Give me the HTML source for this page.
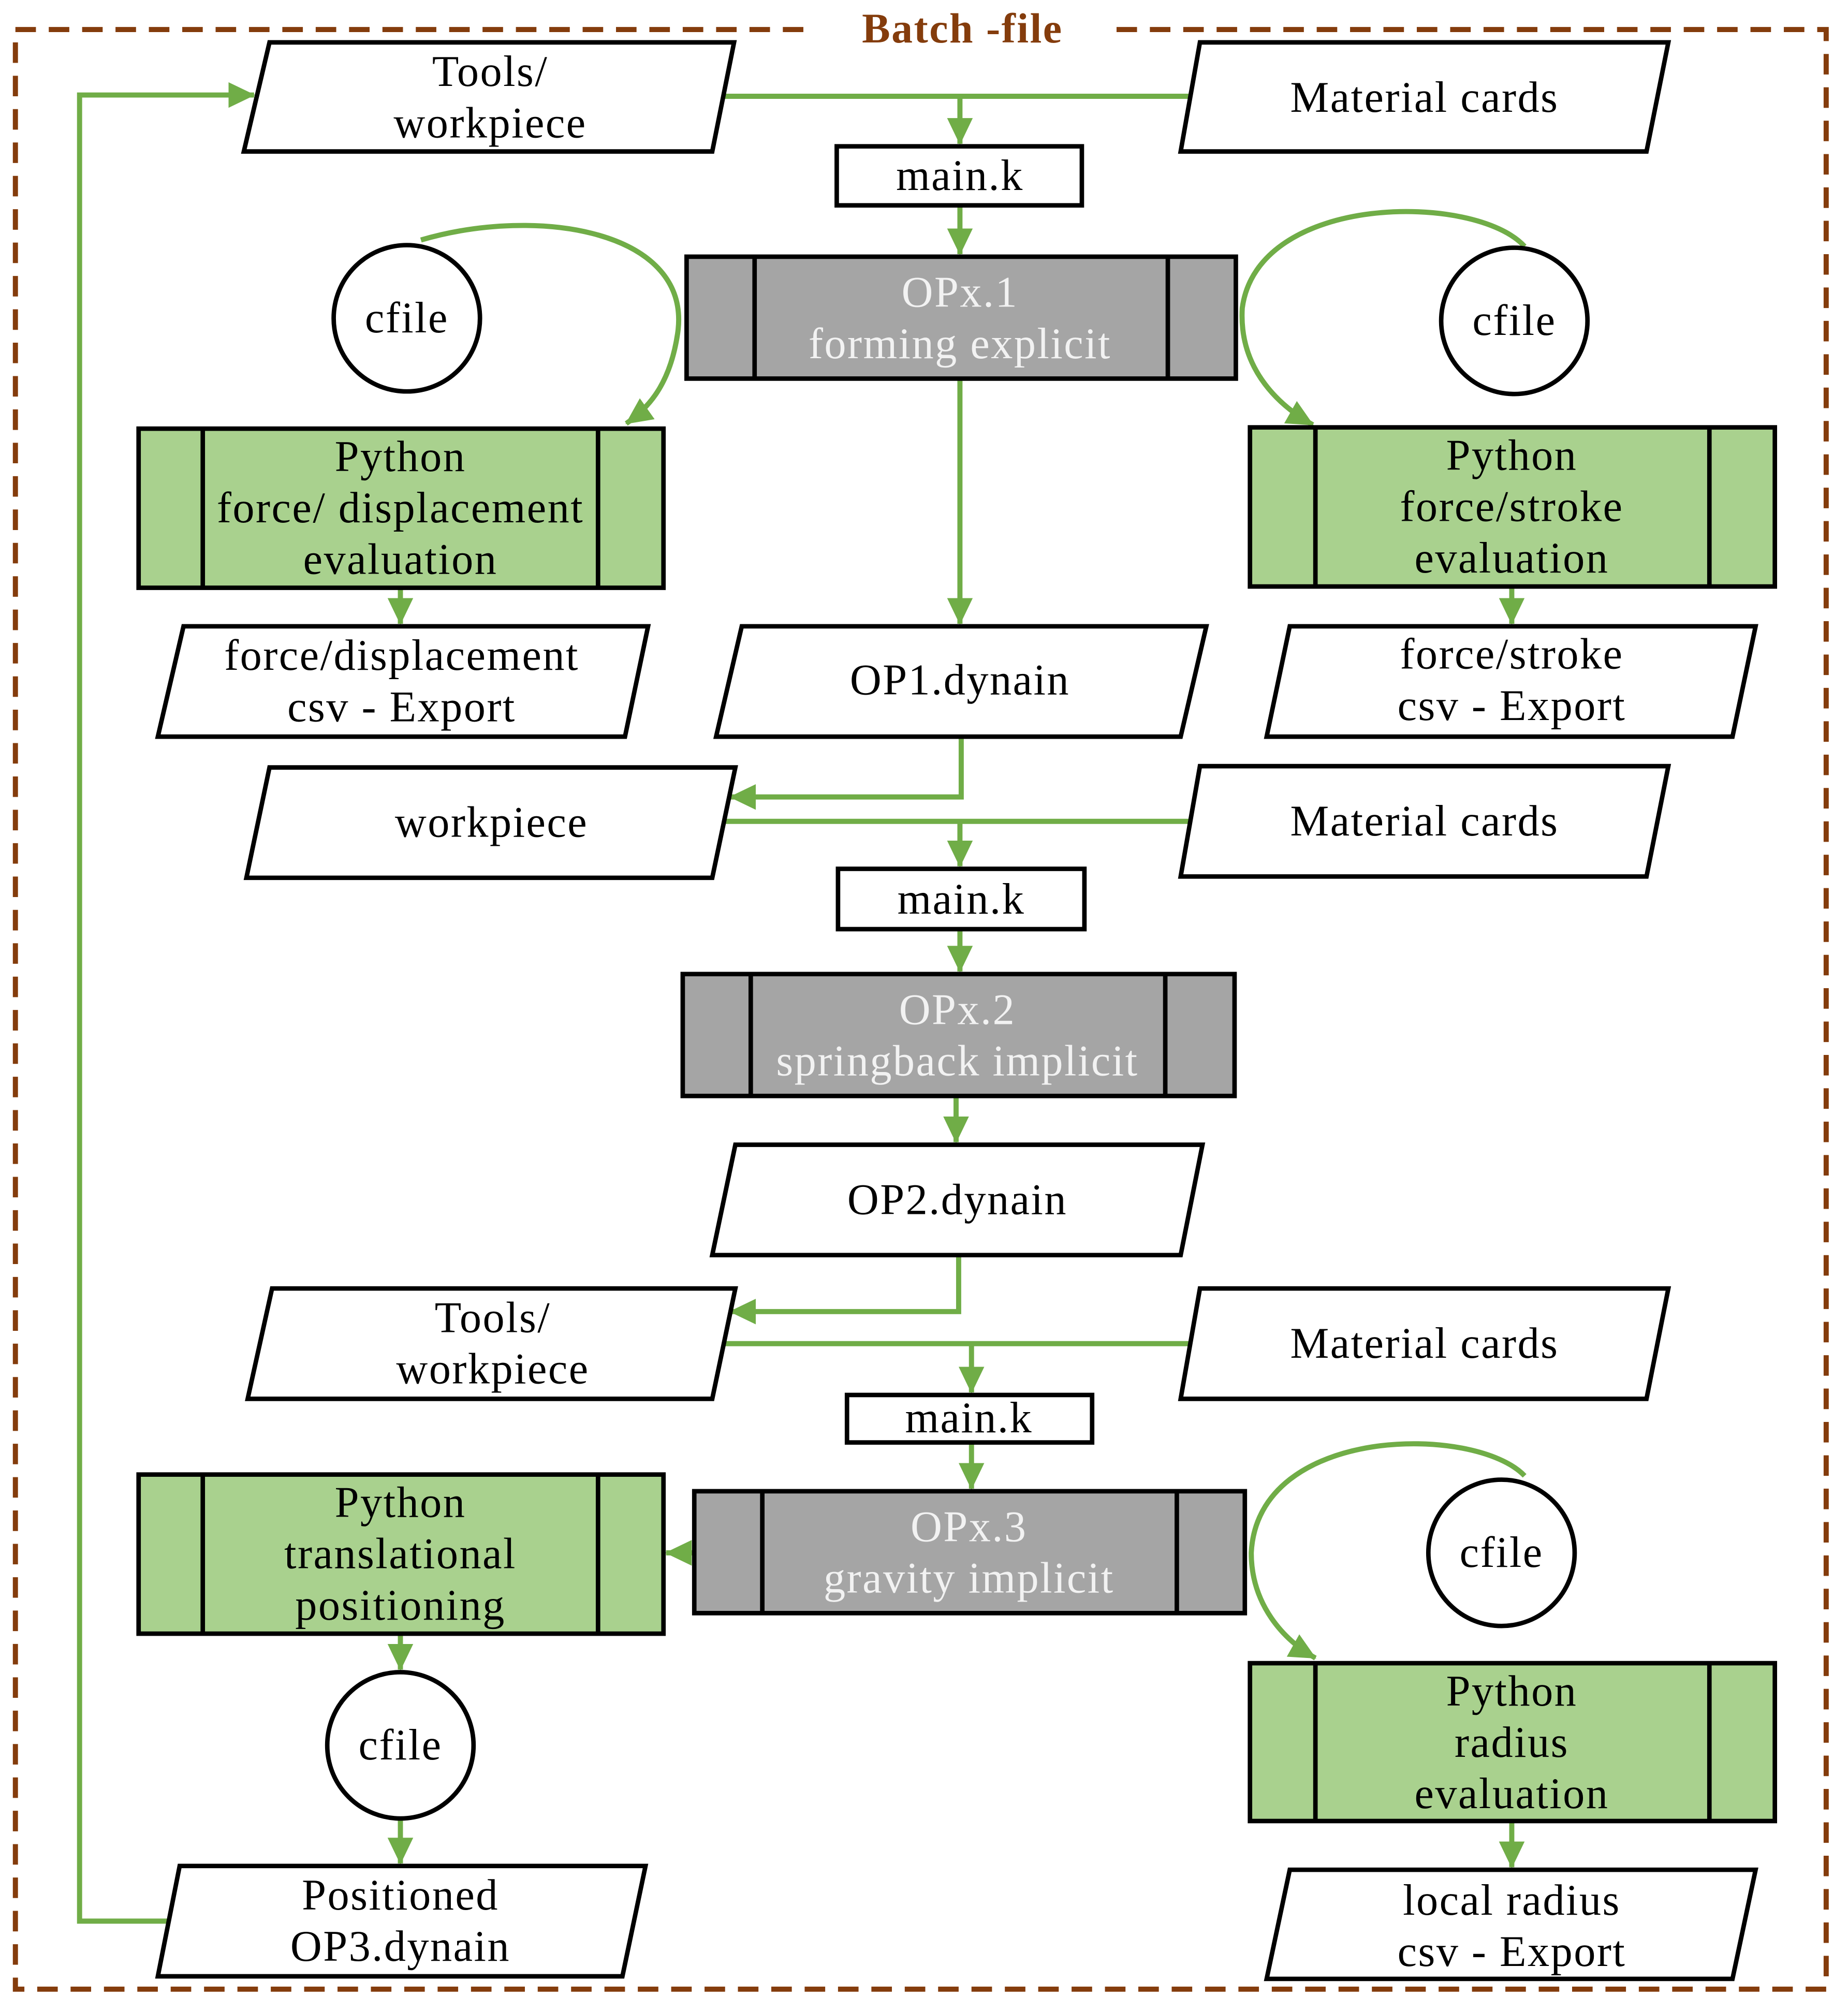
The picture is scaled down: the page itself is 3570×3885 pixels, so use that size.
<!DOCTYPE html>
<html><head><meta charset="utf-8"><style>
html,body{margin:0;padding:0;background:#fff;}
svg{display:block;}
text{font-family:"Liberation Serif",serif;font-size:34px;letter-spacing:1px;text-anchor:middle;fill:#000;}
.w{fill:#f2f2f2;}
</style></head><body>
<svg width="3570" height="3885" viewBox="0 0 1440 1567" xmlns="http://www.w3.org/2000/svg">
<defs>
<marker id="a" markerWidth="6" markerHeight="6" refX="5" refY="3" orient="auto" markerUnits="strokeWidth">
<path d="M0,0.5 L5.2,3 L0,5.5 Z" fill="#70ad47"/></marker>
</defs>
<rect x="12" y="23" width="1411" height="1527" fill="none" stroke="#843c0c" stroke-width="4" stroke-dasharray="16,10"/>
<rect x="630" y="5" width="240" height="36" fill="#fff"/>
<text x="750" y="33" style="font-weight:bold;fill:#843c0c;font-size:33px">Batch -file</text>

<g fill="none" stroke="#70ad47" stroke-width="4">
<path d="M563,75 H930"/><path d="M748,75 V112" marker-end="url(#a)"/>
<path d="M748,160 V198" marker-end="url(#a)"/>
<path d="M748,295 V486" marker-end="url(#a)"/>
<path d="M328,187 C420,160 540,180 528,260 C522,300 505,318 488,330" marker-end="url(#a)"/>
<path d="M1188,192 C1150,150 980,150 968,240 C965,290 1000,318 1023,331" marker-end="url(#a)"/>
<path d="M312,458 V486" marker-end="url(#a)"/>
<path d="M1178,457 V486" marker-end="url(#a)"/>
<path d="M749,574 V621 H569" marker-end="url(#a)"/>
<path d="M563,640 H930"/><path d="M748,640 V675" marker-end="url(#a)"/>
<path d="M748,724 V757" marker-end="url(#a)"/>
<path d="M745,854 V890" marker-end="url(#a)"/>
<path d="M747,978 V1022 H569" marker-end="url(#a)"/>
<path d="M563,1047 H930"/><path d="M757,1047 V1085" marker-end="url(#a)"/>
<path d="M757,1124 V1160" marker-end="url(#a)"/>
<path d="M541,1210 H519" marker-end="url(#a)"/>
<path d="M312,1273 V1301" marker-end="url(#a)"/>
<path d="M312,1417 V1452" marker-end="url(#a)"/>
<path d="M133,1497 H62 V74 H198" marker-end="url(#a)"/>
<path d="M1188,1150 C1150,1110 980,1110 975,1210 C975,1250 1000,1278 1025,1292" marker-end="url(#a)"/>
<path d="M1178,1419 V1455" marker-end="url(#a)"/>
</g>

<g fill="#fff" stroke="#000" stroke-width="3.5">
<polygon points="210,33 572,33 555,118 190,118"/>
<polygon points="935,33 1300,33 1283,118 920,118"/>
<rect x="652" y="114" width="191" height="46"/>
<polygon points="143,488 505,488 487,574 123,574"/>
<polygon points="578,488 940,488 920,574 558,574"/>
<polygon points="1005,488 1368,488 1350,574 987,574"/>
<polygon points="210,598 573,598 555,684 192,684"/>
<polygon points="935,597 1300,597 1283,683 920,683"/>
<rect x="653" y="677" width="192" height="47"/>
<polygon points="573,892 937,892 920,978 555,978"/>
<polygon points="212,1004 573,1004 555,1090 193,1090"/>
<polygon points="935,1004 1300,1004 1283,1090 920,1090"/>
<rect x="660" y="1087" width="191" height="37"/>
<polygon points="140,1454 503,1454 485,1540 123,1540"/>
<polygon points="1005,1457 1368,1457 1350,1542 987,1542"/>
<circle cx="317" cy="248" r="57"/>
<circle cx="1180" cy="250" r="57"/>
<circle cx="312" cy="1360" r="57"/>
<circle cx="1170" cy="1210" r="57"/>
</g>
<g stroke="#000" stroke-width="3.5">
<rect x="535" y="200" width="428" height="95" fill="#a5a5a5"/><path d="M588,200 V295 M910,200 V295"/>
<rect x="532" y="759" width="430" height="95" fill="#a5a5a5"/><path d="M585,759 V854 M908,759 V854"/>
<rect x="541" y="1162" width="429" height="95" fill="#a5a5a5"/><path d="M594,1162 V1257 M917,1162 V1257"/>
<rect x="108" y="334" width="409" height="124" fill="#a9d18e"/><path d="M158,334 V458 M466,334 V458"/>
<rect x="974" y="333" width="409" height="124" fill="#a9d18e"/><path d="M1025,333 V457 M1332,333 V457"/>
<rect x="108" y="1149" width="409" height="124" fill="#a9d18e"/><path d="M158,1149 V1273 M466,1149 V1273"/>
<rect x="974" y="1296" width="409" height="123" fill="#a9d18e"/><path d="M1025,1296 V1419 M1332,1296 V1419"/>
</g>

<text x="382" y="67">Tools/</text><text x="382" y="107">workpiece</text>
<text x="1110" y="87">Material cards</text>
<text x="748" y="148">main.k</text>
<text class="w" x="748" y="239">OPx.1</text><text class="w" x="748" y="279">forming explicit</text>
<text x="317" y="259">cfile</text><text x="1180" y="261">cfile</text>
<text x="312" y="367">Python</text><text x="312" y="407">force/ displacement</text><text x="312" y="447">evaluation</text>
<text x="1178" y="366">Python</text><text x="1178" y="406">force/stroke</text><text x="1178" y="446">evaluation</text>
<text x="313" y="522">force/displacement</text><text x="313" y="562">csv - Export</text>
<text x="748" y="541">OP1.dynain</text>
<text x="1178" y="521">force/stroke</text><text x="1178" y="561">csv - Export</text>
<text x="383" y="652">workpiece</text>
<text x="1110" y="651">Material cards</text>
<text x="749" y="712">main.k</text>
<text class="w" x="746" y="798">OPx.2</text><text class="w" x="746" y="838">springback implicit</text>
<text x="746" y="946">OP2.dynain</text>
<text x="384" y="1038">Tools/</text><text x="384" y="1078">workpiece</text>
<text x="1110" y="1058">Material cards</text>
<text x="755" y="1116">main.k</text>
<text class="w" x="755" y="1201">OPx.3</text><text class="w" x="755" y="1241">gravity implicit</text>
<text x="312" y="1182">Python</text><text x="312" y="1222">translational</text><text x="312" y="1262">positioning</text>
<text x="312" y="1371">cfile</text>
<text x="1170" y="1221">cfile</text>
<text x="1178" y="1329">Python</text><text x="1178" y="1369">radius</text><text x="1178" y="1409">evaluation</text>
<text x="312" y="1488">Positioned</text><text x="312" y="1528">OP3.dynain</text>
<text x="1178" y="1492">local radius</text><text x="1178" y="1532">csv - Export</text>
</svg>
</body></html>
